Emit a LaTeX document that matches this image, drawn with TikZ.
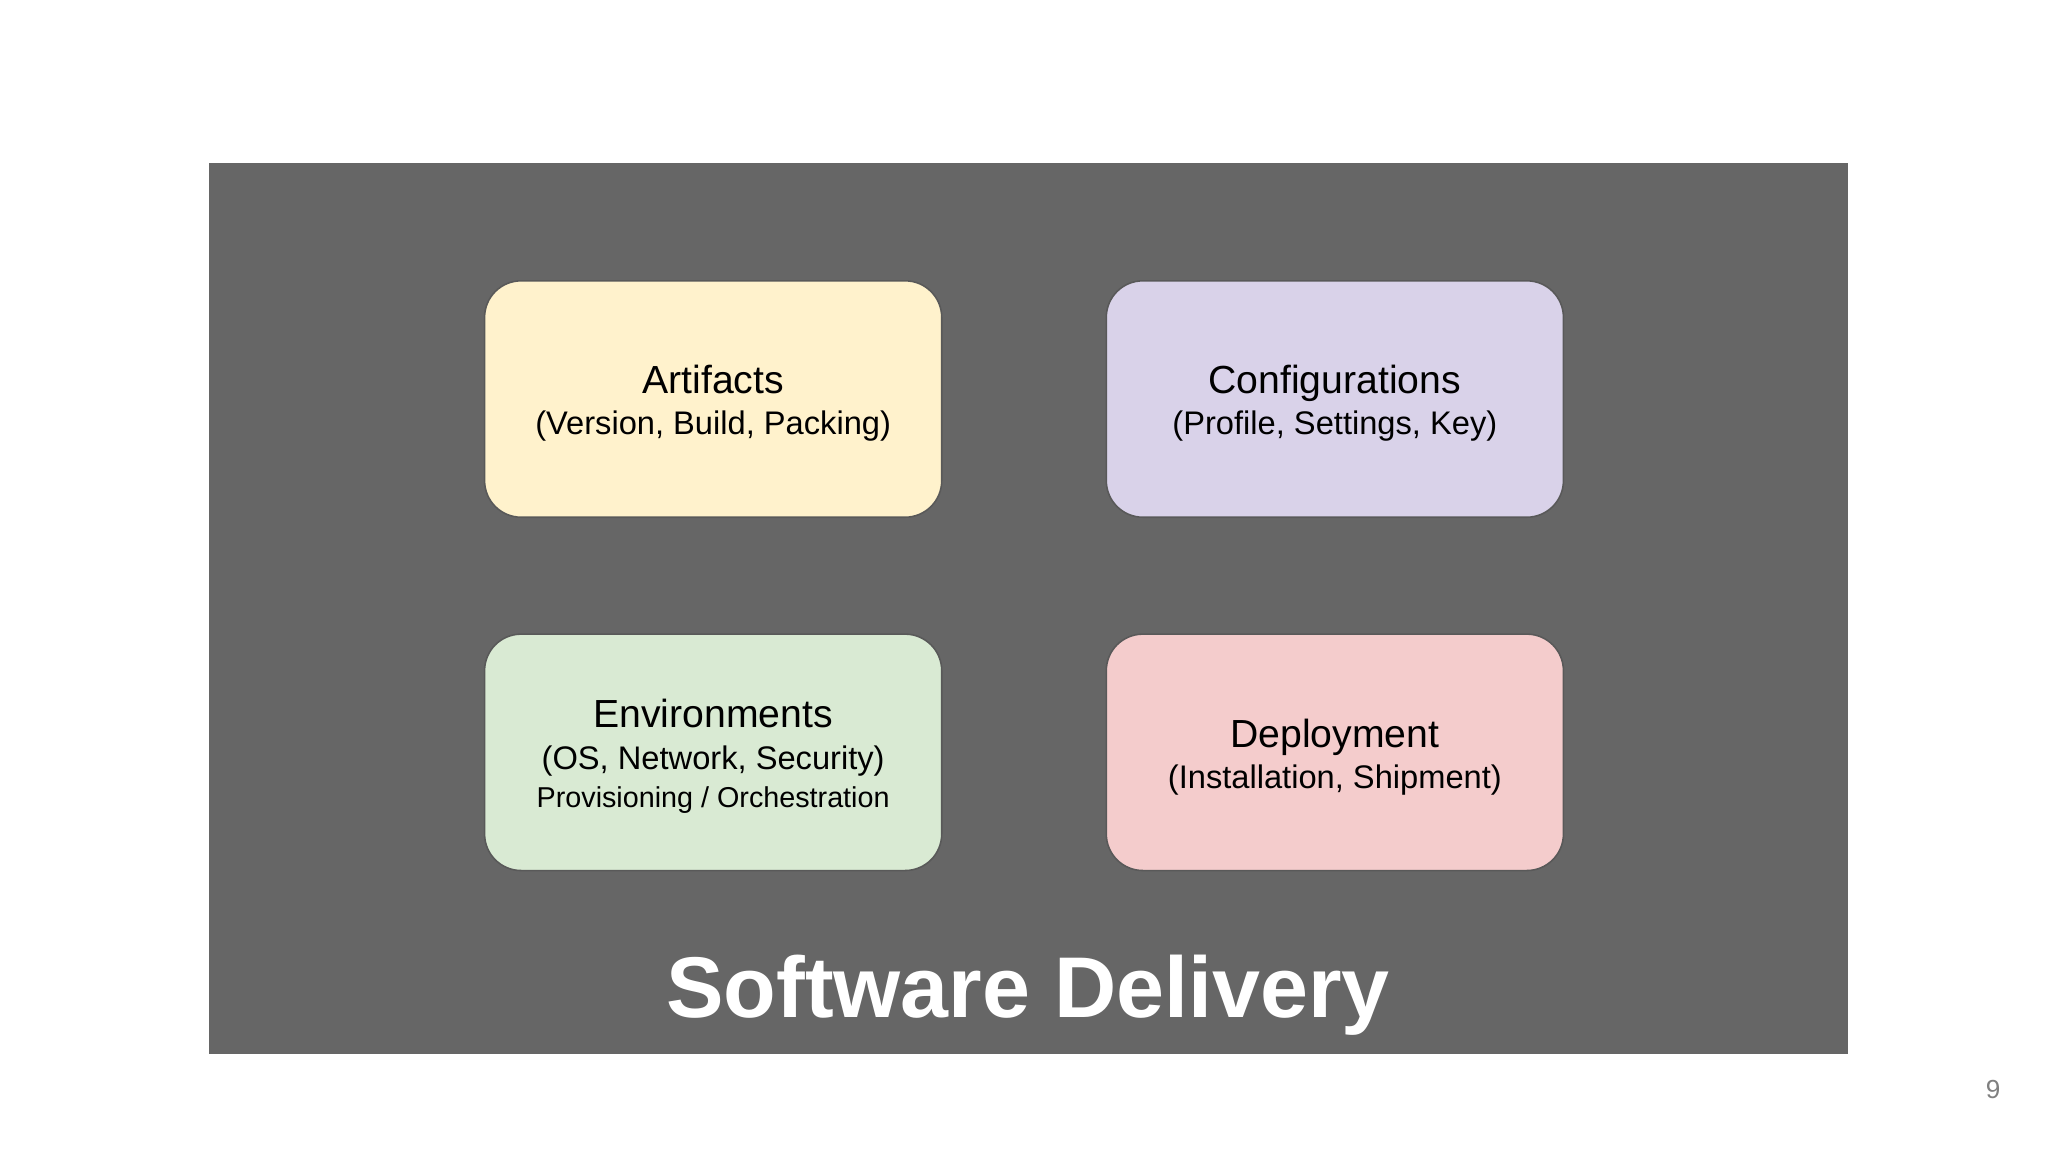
\documentclass[tikz,border=0pt]{standalone}
\usepackage{fontspec}
\setmainfont{Liberation Sans}
\definecolor{bg}{HTML}{666666}
\definecolor{cyel}{HTML}{FFF2CC}
\definecolor{cpur}{HTML}{D9D2E9}
\definecolor{cgrn}{HTML}{D9EAD3}
\definecolor{cred}{HTML}{F4CCCC}
\definecolor{edge}{HTML}{595959}
\begin{document}
\begin{tikzpicture}[x=1pt,y=-1pt,
  card/.style={draw=edge,line width=1.2pt,rounded corners=28pt,minimum width=350pt,minimum height=181pt,align=center,inner sep=0pt},
  big/.style={font=\fontsize{30}{36}\selectfont},
  mid/.style={font=\fontsize{25}{30}\selectfont},
  sm/.style={font=\fontsize{22}{27}\selectfont}]
\useasboundingbox (0,0) rectangle (1568,882);
\fill[white] (0,0) rectangle (1568,882);
\fill[bg] (160,125) rectangle (1415,807);
\node[card,fill=cyel] (art) at (546,305.5) {};
\node[card,fill=cpur] (cfg) at (1022,305.5) {};
\node[card,fill=cgrn] (env) at (546,576) {};
\node[card,fill=cred] (dep) at (1022,576) {};
\node[big,anchor=base] (t1) at (546,301) {Artifacts};
\node[mid,anchor=base] (s1) at (546,333) {(Version, Build, Packing)};
\node[big,anchor=base] (t2) at (1022,301) {Configurations};
\node[mid,anchor=base] (s2) at (1022,333) {(Profile, Settings, Key)};
\node[big,anchor=base] (t3) at (546,557) {Environments};
\node[mid,anchor=base] (s3) at (546,589) {(OS, Network, Security)};
\node[sm,anchor=base] (u3) at (546,618) {Provisioning / Orchestration};
\node[big,anchor=base] (t4) at (1022,572) {Deployment};
\node[mid,anchor=base] (s4) at (1022,604) {(Installation, Shipment)};
\node[anchor=base,text=white,font=\bfseries\fontsize{66}{78}\selectfont] (title) at (787,779) {Software Delivery};
\node[anchor=base,text=gray,font=\fontsize{20}{24}\selectfont] (pg) at (1526,841) {9};
\end{tikzpicture}
\end{document}
